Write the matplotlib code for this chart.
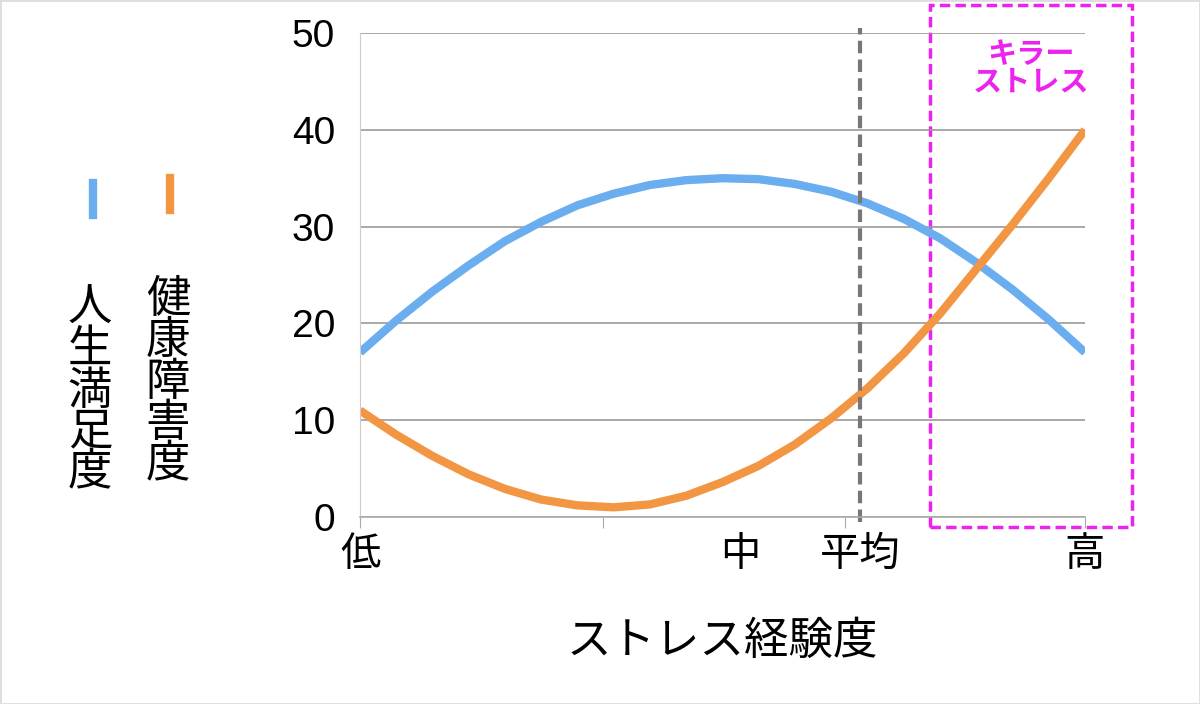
import matplotlib
matplotlib.use("Agg")
import matplotlib.pyplot as plt
from matplotlib.patches import Rectangle

plt.rcParams['font.family'] = ['Liberation Sans', 'Noto Sans CJK JP', 'DejaVu Sans']

x = [0, .05, .1, .15, .2, .25, .3, .35, .4, .45, .5, .55, .6, .65, .7, .75, .8, .85, .9, .95, 1]
satisfaction = [17, 20.3, 23.3, 26, 28.5, 30.5, 32.2, 33.4, 34.3, 34.8, 35, 34.9, 34.4, 33.6, 32.4, 30.8, 28.8, 26.3, 23.5, 20.4, 17]
health = [11, 8.5, 6.3, 4.4, 2.9, 1.8, 1.2, 1.0, 1.3, 2.2, 3.6, 5.3, 7.5, 10.2, 13.3, 16.9, 21, 25.6, 30.2, 35, 40]
tick_pos = [0, 0.524, 0.69, 1.0]
tick_labels = ["低", "中", "平均", "高"]
minor_ticks = [0, 0.335, 0.669, 1.0]
avg_x = 0.69

fig = plt.figure(figsize=(12, 7.04), dpi=100)
ax = fig.add_axes([360/1200, 1-517/704, 725/1200, 484/704])
ax.set_xlim(0, 1)
ax.set_ylim(0, 50)
ax.set_yticks([0, 10, 20, 30, 40, 50])
ax.yaxis.grid(True, color='#999999', lw=1.2)
ax.tick_params(axis='y', length=0, labelsize=28, pad=18)
ax.set_xticks(minor_ticks)
ax.set_xticklabels([])
ax.tick_params(axis='x', length=8, color='#aaaaaa', direction='out')
for s in ['top', 'right']:
    ax.spines[s].set_visible(False)
ax.spines['left'].set_color('#cccccc')
ax.spines['bottom'].set_color('#aaaaaa')
ax.spines['bottom'].set_linewidth(1.2)

for p, l in zip(tick_pos, tick_labels):
    ax.text(p, -2.0, l, ha='center', va='top', fontsize=29)
ax.text(0.5, -10.8, "ストレス経験度", ha='center', va='top', fontsize=32)

ax.plot(x, satisfaction, color='#6aaef0', lw=6, solid_capstyle='butt', solid_joinstyle='round')
ax.plot(x, health, color='#f29643', lw=6, solid_capstyle='butt', solid_joinstyle='round')
ax.plot([avg_x, avg_x], [-0.5, 50.5], color='#777777', lw=3, ls=(0, (3, 1.5)), clip_on=False)

ax.add_patch(Rectangle((0.786, -1.03), 0.279, 53.9, fill=False, ec='#ee22ee', lw=2.5,
                       ls=(0, (3, 1.5)), clip_on=False))
ax.text(0.925, 46.3, "キラー\nストレス", color='#ee22ee', ha='center', va='center',
        fontsize=21, fontweight='bold', linespacing=1.0)

# legend
fig.add_artist(plt.Line2D([93/1200]*2, [1-183/704, 1-215/704], color='#6aaef0', lw=6))
fig.add_artist(plt.Line2D([170/1200]*2, [1-178/704, 1-210/704], color='#f29643', lw=6))
fig.text(90/1200, 1-392/704, "\n".join("人生満足度"), ha='center', va='center', fontsize=32, linespacing=1.0)
fig.text(168/1200, 1-383/704, "\n".join("健康障害度"), ha='center', va='center', fontsize=32, linespacing=1.0)

fig.add_artist(Rectangle((0, 0), 1, 1, fill=False, ec='#dddddd', lw=2, transform=fig.transFigure))
fig.savefig("out.png", dpi=100)
